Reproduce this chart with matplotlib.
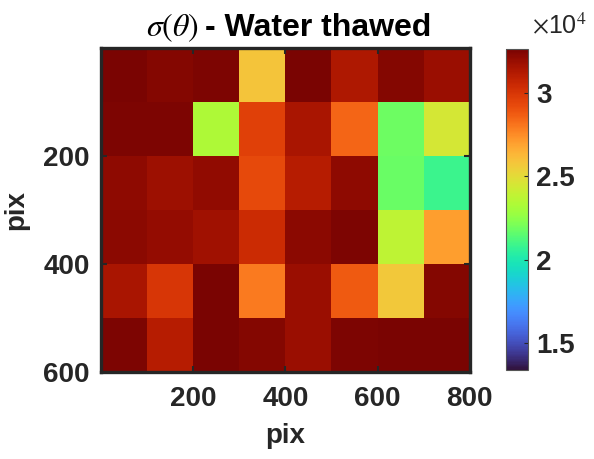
#!/usr/bin/env python3
# sigma(theta) map, water thawed sample
# block std values over the image, 100x100 pix blocks

import numpy as np
import matplotlib
matplotlib.use('Agg')
import matplotlib.pyplot as plt

### data (x1e4), rows top -> bottom
row0 = [3.264, 3.235, 3.254, 2.586, 3.264, 3.129, 3.235, 3.187]
row1 = [3.254, 3.254, 2.336, 2.956, 3.148, 2.850, 2.185, 2.445]
row2 = [3.216, 3.177, 3.206, 2.927, 3.110, 3.216, 2.176, 2.089]
row3 = [3.225, 3.197, 3.168, 3.042, 3.225, 3.254, 2.378, 2.705]
row4 = [3.148, 2.994, 3.264, 2.792, 3.187, 2.879, 2.571, 3.235]
row5 = [3.254, 3.110, 3.264, 3.235, 3.187, 3.254, 3.264, 3.264]
clim = [1.338e4, 3.264e4]
xticks = [200, 400, 600, 800]
yticks = [200, 400, 600]
cbticks = [1.5e4, 2e4, 2.5e4, 3e4]

sig = np.array([row0, row1, row2, row3, row4, row5]) * 1e4

### fonts
plt.rcParams['font.family'] = ['Liberation Sans', 'DejaVu Sans']
plt.rcParams['mathtext.fontset'] = 'stix'
dark = '#262626'

fig = plt.figure(figsize=(5.94, 4.59), dpi=100)
ax = fig.add_axes([0.170, 0.1895, 0.621, 0.7055])
cax = fig.add_axes([0.852, 0.194, 0.037, 0.699])

im = ax.imshow(sig, cmap='turbo', vmin=clim[0], vmax=clim[1],
               extent=[0, 800, 600, 0], aspect='auto', interpolation='nearest')

ax.set_xticks(xticks)
ax.set_yticks(yticks)
ax.tick_params(direction='in', length=4, width=1.5, colors=dark,
               labelsize=20, top=True, right=True)
ax.tick_params(axis='x', pad=10)
ax.tick_params(axis='y', pad=8)
for lab in ax.get_xticklabels() + ax.get_yticklabels():
    lab.set_fontweight('bold')
for s in ax.spines.values():
    s.set_linewidth(2.4)
    s.set_color(dark)

ax.set_xlabel('pix', fontsize=20, fontweight='bold', color=dark, labelpad=8)
ax.set_ylabel('pix', fontsize=20, fontweight='bold', color=dark, labelpad=10)

# title: math part normal weight, rest bold
fig.text(0.335, 0.9216, r'$\sigma(\theta)$', fontsize=23, color='black',
         ha='right', va='baseline')
fig.text(0.345, 0.9216, '- Water thawed', fontsize=23, fontweight='bold',
         color='black', ha='left', va='baseline')

### colorbar
cb = fig.colorbar(im, cax=cax, ticks=cbticks)
cb.ax.set_yticklabels(['1.5', '2', '2.5', '3'])
cb.ax.tick_params(direction='in', length=3, width=0.8, colors=dark,
                  labelsize=20, pad=6)
for lab in cb.ax.get_yticklabels():
    lab.set_fontweight('bold')
cb.outline.set_linewidth(0.8)
cb.outline.set_edgecolor('#555555')
fig.text(0.895, 0.916, r'$\times$10$^{4}$', fontsize=18, fontweight='normal',
         color=dark, ha='left', va='bottom')

fig.savefig('out.png', dpi=100)
